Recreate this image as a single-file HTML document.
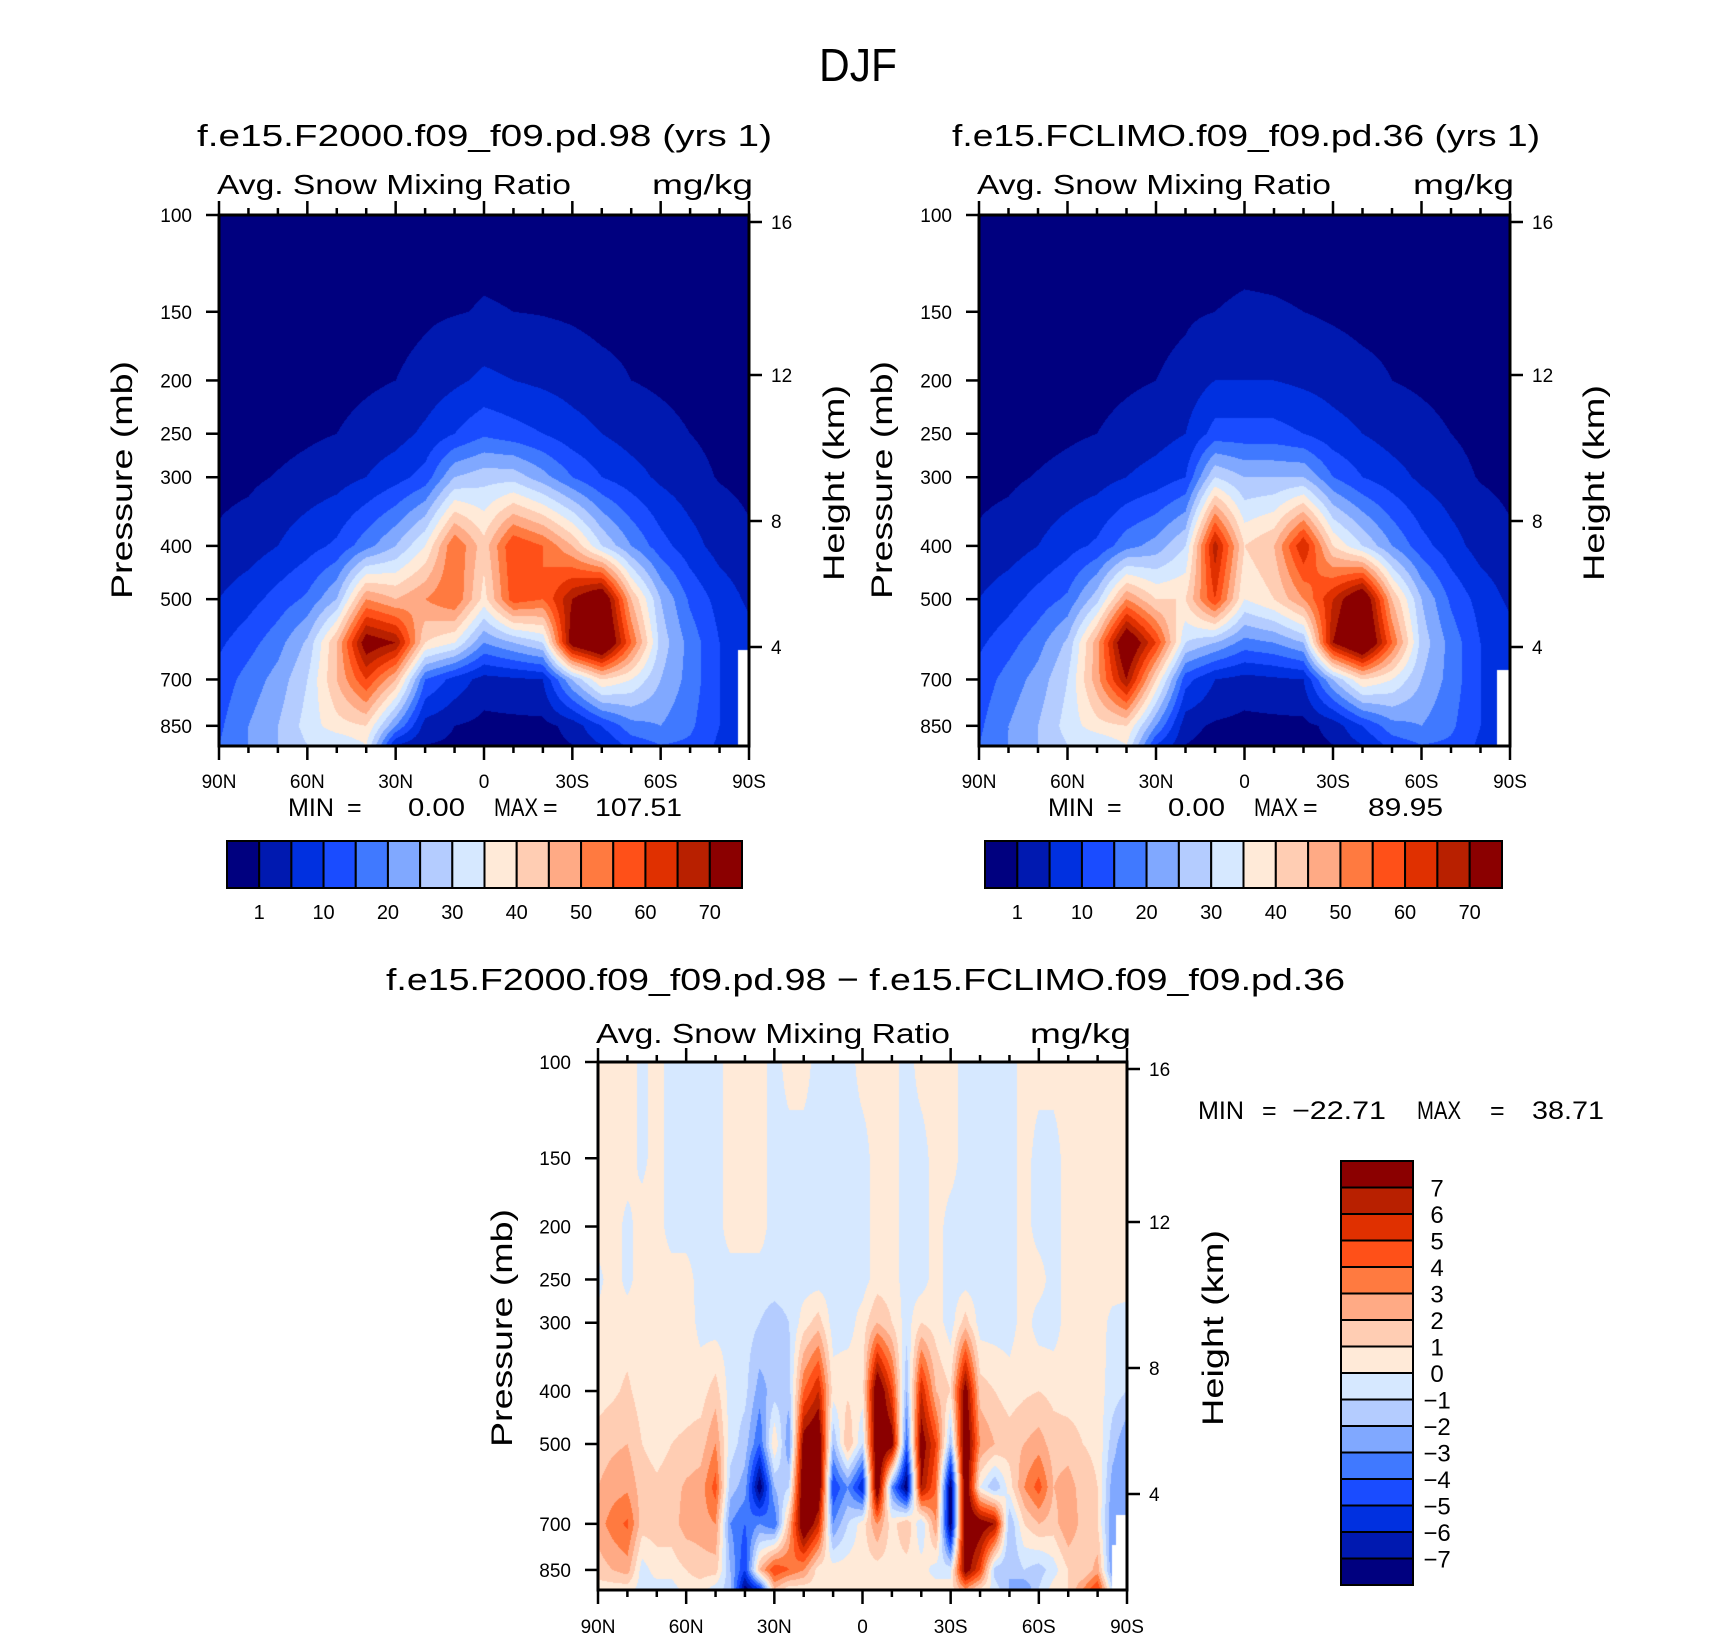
<!DOCTYPE html>
<html><head><meta charset="utf-8">
<style>
html,body{margin:0;padding:0;background:#fff;}
#root{position:relative;width:1710px;height:1639px;overflow:hidden;background:#fff;font-family:"Liberation Sans",sans-serif;}
canvas{position:absolute;}
svg{position:absolute;left:0;top:0;}
svg text{font-family:"Liberation Sans",sans-serif;fill:#000;}
</style></head>
<body>
<div id="root">
<canvas id="c1"></canvas>
<canvas id="c2"></canvas>
<canvas id="c3"></canvas>
<svg id="ov" width="1710" height="1639"></svg>
</div>
<script>
// ---------- DATA ----------
const plevs = [100,150,200,250,300,400,500,600,700,850,920];
const lats1 = [90,80,70,60,50,40,30,20,10,0,-10,-20,-30,-40,-50,-60,-70,-80,-90];
const panel1Values = [
 [0,0,0,0,0.2,1.5,5,9,12,14,15],
 [0,0,0,0,0.4,2.5,8,13,17,20,20],
 [0,0,0,0,1.2,5,12,18,22,25,25],
 [0,0,0,0.5,2,8,16,26,30,32,30],
 [0,0,0,1,3,11,25,45,45,38,30],
 [0,0,0.5,2,5,18,50,75,60,40,35],
 [0,0,1,3,8,25,45,70,45,20,5],
 [0,0.5,2,6,12,35,50,40,15,3,1],
 [0,0.8,4,10,25,55,55,35,8,1,0.5],
 [0,1.2,6,14,28,42,38,20,3,0,0],
 [0,1.0,5,12,28,60,58,25,4,0,0],
 [0,0.8,4,10,22,55,55,30,5,0,0],
 [0,0.5,3,7,15,45,70,75,25,2,1],
 [0,0,2,5,10,30,80,85,40,10,5],
 [0,0,1,3,7,20,45,55,35,18,12],
 [0,0,0.5,2,4,12,25,28,25,20,15],
 [0,0,0,1,2,7,14,18,18,16,14],
 [0,0,0,0.3,0.8,3,8,10,10,10,9],
 [0,0,0,0,0.3,1.5,4,7,7,6,6]
];
const panel2Values = [
 [0,0,0,0,0.2,1.5,5,9,12,14,15],
 [0,0,0,0,0.4,2.5,8,13,17,20,20],
 [0,0,0,0,1.2,5,12,18,22,25,25],
 [0,0,0,0.5,2,8,16,26,30,32,30],
 [0,0,0,1,3,11,28,48,48,38,30],
 [0,0,0.5,2,5,18,50,80,70,40,35],
 [0,0,1,3,7,22,40,60,40,20,10],
 [0,0.5,2,5,10,30,40,30,12,2,1],
 [0,1.0,5,12,30,68,60,25,5,0.5,0],
 [0,1.3,5,12,25,40,35,18,3,0,0],
 [0,1.2,5,12,25,45,40,20,4,0,0],
 [0,1,4,10,25,65,50,25,5,0,0],
 [0,0.5,3,7,15,40,65,70,25,2,1],
 [0,0,2,5,10,30,80,85,40,10,5],
 [0,0,1,3,7,20,45,55,35,18,12],
 [0,0,0.5,2,4,12,25,28,25,20,15],
 [0,0,0,1,2,7,14,18,18,16,14],
 [0,0,0,0.3,0.8,3,8,10,10,10,9],
 [0,0,0,0,0.3,1.5,4,7,7,6,6]
];
const lats3 = [90,85,80,75,70,65,60,55,50,45,40,35,30,25,20,15,10,5,0,-5,-10,-15,-20,-25,-30,-35,-40,-45,-50,-55,-60,-65,-70,-75,-80,-85,-90];
const diffValues = [
 [0.5,0.5,0.5,-0.3,0.3,0.5,1.5,2,2.5,1.5,0.5],
 [0.5,0.5,0.5,0.5,0.5,0.8,1.8,2.5,3.5,2,0.5],
 [0.5,0.5,-0.3,-0.3,0.5,1.2,2,2.8,4.2,2.5,0.5],
 [-0.3,-0.3,0.5,0.5,0.5,0.5,1,1.5,1.5,-0.5,-0.5],
 [0.5,0.5,0.5,0.5,0.5,0.5,0.6,1.2,1.5,0.5,-0.5],
 [-0.5,-0.5,-0.5,0.5,0.5,0.5,1,1.5,1.5,0.5,-0.5],
 [-0.5,-0.5,-0.5,0.5,0.5,0.5,1.2,2.2,2.5,1,0.5],
 [-0.5,-0.5,-0.5,-0.5,-0.3,0.5,1.5,2.5,2.5,1.5,0.5],
 [-0.5,-0.5,-0.5,-0.5,-0.5,1.5,3,4.5,3,1.5,-0.5],
 [0.5,0.5,0.5,-0.5,-0.5,-0.5,-0.5,-1.5,-3,-2,-1.5],
 [0.5,0.5,0.5,-0.5,-0.5,-0.7,-1.5,-2.5,-4,-5,-7.5],
 [0.5,0.5,0.5,-0.5,-1,-2.5,-4,-8,-3,2,-5],
 [-0.5,-0.5,-0.5,-0.5,-1.5,-1.5,1,-2,-4,5,2],
 [0.5,-0.5,-0.5,-0.5,-1,-1.5,-3,-1,2,4,0.5],
 [0.5,-0.5,-0.5,-0.5,0.5,4,8,9,9,3,0.5],
 [-0.5,-0.5,-0.5,-0.5,1.5,6,9,9,6,0.5,0.5],
 [-0.5,-0.5,-0.5,-0.5,-0.5,0.5,-2,-5,-3,0.5,0.5],
 [-0.5,-0.5,-0.5,-0.5,-0.5,0.8,2,-3,-1,0.5,0.5],
 [0.5,-0.5,-0.5,-0.5,0.5,0.5,-1,-6,0.5,0.5,0.5],
 [0.5,0.5,0.5,0.5,2,9,9,9,3,0.5,0.5],
 [0.5,0.5,0.5,0.5,1,5,8,-3,0.5,0.5,0.5],
 [-0.5,-0.5,-0.5,-0.5,-0.5,-2,-4,-8,2,0.5,0.5],
 [0.5,-0.5,-0.5,-0.5,1,6,8,7,-1,0.5,0.5],
 [0.5,0.5,0.5,0.5,0.5,2,5,4,3,-0.5,0.5],
 [0.5,0.5,-0.5,-0.5,-0.5,1,-2,-8,-8,-0.5,0.5],
 [-0.5,-0.5,-0.5,-0.5,1.5,8,9,9,9,8,3],
 [-0.5,-0.5,-0.5,-0.5,-0.5,1.5,3,0,8,5,1],
 [-0.5,-0.5,-0.5,-0.5,-0.5,1,2,-2,7,-1.5,-0.5],
 [-0.5,-0.5,-0.5,-0.5,-0.5,0.5,1.5,0.5,-2,-2,-2],
 [0.5,0.5,0.5,0.5,0.5,0.8,2,3,1,-1,-3],
 [0.5,-0.5,-0.5,0.5,-0.5,1,2.5,4.5,2,-1.5,-1],
 [0.5,-0.5,-0.5,-0.5,-0.5,0.7,1.5,2,1.5,-0.5,0.5],
 [0.5,0.5,0.5,0.5,0.5,0.5,1.5,2.5,3,1,1],
 [0.5,0.5,0.5,0.5,0.5,0.5,1,1.5,1.5,1,3],
 [0.5,0.5,0.5,0.5,0.5,0.5,0.8,1,1,2.5,5],
 [0.5,0.5,0.5,0.5,-0.3,-0.5,-1.5,-2.5,-3,-3,-1],
 [0.5,0.5,0.5,0.5,-0.5,-1,-3,-3,-2,-1,-1]
];
const absLevels = [1,5,10,15,20,25,30,35,40,45,50,55,60,65,70];
const absLevelLabels = ["1","10","20","30","40","50","60","70"];
const diffLevels = [-7,-6,-5,-4,-3,-2,-1,0,1,2,3,4,5,6,7];
const diffLevelLabels = ["−7","−6","−5","−4","−3","−2","−1","0","1","2","3","4","5","6","7"];
const colors = ["#00007f","#0019b0","#0030e0","#1a4cff","#4079ff","#80a8ff","#b4ccff","#d6e8ff","#ffead8","#ffcdb3","#ffaa85","#ff7a40","#ff5018","#e03000","#b82000","#8b0000"];
const pTicks = [100,150,200,250,300,400,500,700,850];
const latTickLabels = ["90N","60N","30N","0","30S","60S","90S"];
const heightTicks = ["16","12","8","4"];

// ---------- LAYOUT ----------
const PMAX = 925;
const panels = [
 {id:'c1', x:219, y:215, w:530, h:531, lats:lats1, vals:panel1Values, lev:absLevels, miss:[[738,650,11,96]]},
 {id:'c2', x:979, y:215, w:531, h:531, lats:lats1, vals:panel2Values, lev:absLevels, miss:[[1497,670,13,76]]},
 {id:'c3', x:598, y:1062, w:529, h:528, lats:lats3, vals:diffValues, lev:diffLevels, miss:[[1116,1515,11,75],[1112,1545,4,45]]}
];
const heightOffsets = [7,160,306,432];

function pToFrac(p){ return Math.log(p/100)/Math.log(PMAX/100); }
function yOf(P,p){ return P.y + pToFrac(p)*P.h; }
function xOf(P,lat){ return P.x + (90-lat)/180*P.w; }
function colorIndex(v, lev){ let k=0; for(const t of lev){ if(v>=t) k++; } return k; }
function hexRGB(h){ return [parseInt(h.substr(1,2),16),parseInt(h.substr(3,2),16),parseInt(h.substr(5,2),16)]; }
const rgb = colors.map(hexRGB);

function drawPanel(P){
  const cv=document.getElementById(P.id);
  cv.width=P.w; cv.height=P.h;
  cv.style.left=P.x+'px'; cv.style.top=P.y+'px';
  const ctx=cv.getContext('2d');
  const img=ctx.createImageData(P.w,P.h);
  const nc=P.lats.length, nr=plevs.length;
  const levFr = plevs.map(p=>pToFrac(p));
  for(let j=0;j<P.h;j++){
    const f=(j+0.5)/P.h;
    let r=0; while(r<nr-2 && levFr[r+1]<f) r++;
    let ty=(f-levFr[r])/(levFr[r+1]-levFr[r]); ty=Math.max(0,Math.min(1,ty));
    for(let i=0;i<P.w;i++){
      const lat=90-(i+0.5)/P.w*180;
      let fc=(P.lats[0]-lat)/(P.lats[0]-P.lats[nc-1])*(nc-1);
      let c=Math.min(nc-2,Math.max(0,Math.floor(fc))); let tx=fc-c; tx=Math.max(0,Math.min(1,tx));
      const a=P.vals[c][r], b=P.vals[c+1][r], d=P.vals[c][r+1], e=P.vals[c+1][r+1];
      const v=(a*(1-tx)+b*tx)*(1-ty)+(d*(1-tx)+e*tx)*ty;
      const k=colorIndex(v,P.lev); const o=(j*P.w+i)*4;
      img.data[o]=rgb[k][0]; img.data[o+1]=rgb[k][1]; img.data[o+2]=rgb[k][2]; img.data[o+3]=255;
    }
  }
  ctx.putImageData(img,0,0);
  ctx.fillStyle='#fff';
  for(const m of P.miss){ ctx.fillRect(m[0]-P.x,m[1]-P.y,m[2],m[3]); }
}
panels.forEach(drawPanel);

// ---------- SVG ----------
const NS='http://www.w3.org/2000/svg';
const svg=document.getElementById('ov');
function el(tag,attrs,parent){ const e=document.createElementNS(NS,tag); for(const k in attrs) e.setAttribute(k,attrs[k]); (parent||svg).appendChild(e); return e; }
function txt(s,x,y,size,anchor,len,parent){
  const a={x:x,y:y,'font-size':size,'text-anchor':anchor||'start'};
  if(len){a.textLength=len; a.lengthAdjust='spacingAndGlyphs';}
  const t=el('text',a,parent); t.textContent=s; return t;
}

const title=txt('DJF',858,81,46,'middle',78);



const panelTitles=[
 {s:'f.e15.F2000.f09_f09.pd.98 (yrs  1)', x:197, y:146, len:575},
 {s:'f.e15.FCLIMO.f09_f09.pd.36 (yrs  1)', x:952, y:146, len:588},
 {s:'f.e15.F2000.f09_f09.pd.98 − f.e15.FCLIMO.f09_f09.pd.36', x:386, y:990, len:959}
];
panelTitles.forEach((T,i)=>{
  const t=txt(T.s,T.x,T.y,31,'start',T.len);
  
  
});

panels.forEach((P,pi)=>{
  const g=el('g',{});
  
  
  const subY = pi<2 ? 194 : 1043;
  const st=txt('Avg. Snow Mixing Ratio',P.x-2,subY,28,'start',354,g);
  
  
  const ut=txt('mg/kg',P.x+P.w+4,subY,28,'end',101,g);
  
  
  const fr=el('rect',{x:P.x,y:P.y,width:P.w,height:P.h,fill:'none',stroke:'#000','stroke-width':3},g);
  
  
  for(let lat=90;lat>=-90;lat-=10){
    const x=xOf(P,lat); const major=(lat%30===0); const L=major?14:7;
    el('line',{x1:x,y1:P.y,x2:x,y2:P.y-L,stroke:'#000','stroke-width':2.5},g);
    el('line',{x1:x,y1:P.y+P.h,x2:x,y2:P.y+P.h+L,stroke:'#000','stroke-width':2.5},g);
  }
  const labY = pi<2 ? 788 : 1633;
  latTickLabels.forEach((s,k)=>{
    const lat=90-30*k;
    const t=txt(s,xOf(P,lat),labY,19,'middle',null,g);
    
    
  });
  pTicks.forEach(p=>{
    const y=yOf(P,p);
    el('line',{x1:P.x,y1:y,x2:P.x-13,y2:y,stroke:'#000','stroke-width':2.5},g);
    const t=txt(String(p),P.x-27,y+7,19,'end',null,g);
    
    
  });
  heightTicks.forEach((s,k)=>{
    const y=P.y+heightOffsets[k];
    el('line',{x1:P.x+P.w,y1:y,x2:P.x+P.w+13,y2:y,stroke:'#000','stroke-width':2.5},g);
    const t=txt(s,P.x+P.w+22,y+7,19,'start',null,g);
    
    
  });
  const pcx = pi===0?132:(pi===1?892:512), pcy = pi<2?480:1328;
  const pt=txt('Pressure (mb)',0,0,30,'middle',238,g);
  pt.setAttribute('transform','translate('+pcx+','+pcy+') rotate(-90)');
  
  
  const hcx = pi===0?844:(pi===1?1604:1223), hcy = pi<2?483:1328;
  const ht=txt('Height (km)',0,0,30,'middle',196,g);
  ht.setAttribute('transform','translate('+hcx+','+hcy+') rotate(-90)');
  
  
});

const minmax=[
 {y:816, items:[['MIN',288,46],['=',347,null],['0.00',408,57],['MAX',494,44],['=',543,null],['107.51',595,87]]},
 {y:816, items:[['MIN',1048,46],['=',1107,null],['0.00',1168,57],['MAX',1254,44],['=',1303,null],['89.95',1368,75]]},
 {y:1119, items:[['MIN',1198,46],['=',1262,null],['−22.71',1292,94],['MAX',1417,44],['=',1490,null],['38.71',1532,72]]}
];
minmax.forEach((M,i)=>{
  const g=el('g',{});
  
  
  M.items.forEach(it=>{ txt(it[0],it[1],M.y,25,'start',it[2],g); });
});

[[227,742],[985,1502]].forEach((cb,ci)=>{
  const g=el('g',{});
  
  
  const bw=(cb[1]-cb[0])/colors.length;
  colors.forEach((c,k)=>{
    const r=el('rect',{x:cb[0]+k*bw,y:841,width:bw,height:47,fill:c,stroke:'#000','stroke-width':2},g);
    
    
  });
  absLevelLabels.forEach((s,k)=>{
    const t=txt(s,cb[0]+(2*k+1)*bw,919,20,'middle',null,g);
    
    
  });
});

(function(){
  const g=el('g',{});
  
  
  const top=1161, bot=1585, x0=1341, x1=1413;
  const bh=(bot-top)/colors.length;
  colors.forEach((c,k)=>{
    const r=el('rect',{x:x0,y:bot-(k+1)*bh,width:x1-x0,height:bh,fill:c,stroke:'#000','stroke-width':2},g);
    
    
  });
  diffLevelLabels.forEach((s,k)=>{
    const y=bot-(k+1)*bh;
    const t=txt(s,1437,y+9,24,'middle',null,g);
    
    
  });
})();
</script>
</body></html>
